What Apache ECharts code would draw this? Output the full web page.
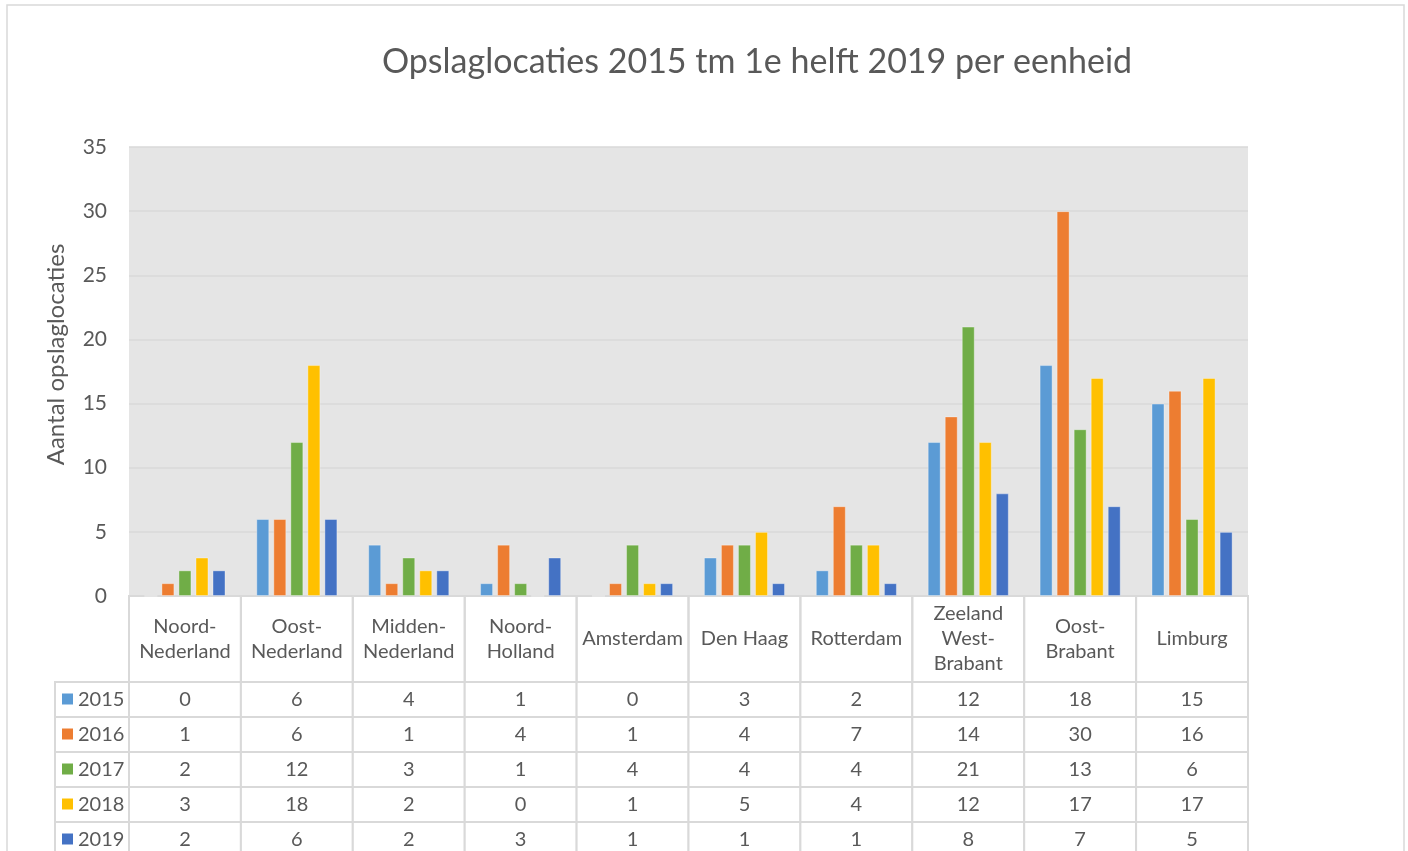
<!DOCTYPE html>
<html>
<head>
<meta charset="utf-8">
<script src="https://cdn.jsdelivr.net/npm/echarts@6/dist/echarts.min.js"></script>
<style>
    html, body { margin: 0; padding: 0; background: #fff; }
    #main { width: 1408px; height: 851px; }
</style>
</head>
<body>
<div id="main"></div>
<script>
(function () {
    'use strict';

    var categories = ['Noord-\nNederland', 'Oost-\nNederland', 'Midden-\nNederland', 'Noord-\nHolland', 'Amsterdam',
        'Den Haag', 'Rotterdam', 'Zeeland\nWest-\nBrabant', 'Oost-\nBrabant', 'Limburg'];
    var years = ['2015', '2016', '2017', '2018', '2019'];
    var v2015 = [0, 6, 4, 1, 0, 3, 2, 12, 18, 15];
    var v2016 = [1, 6, 1, 4, 1, 4, 7, 14, 30, 16];
    var v2017 = [2, 12, 3, 1, 4, 4, 4, 21, 13, 6];
    var v2018 = [3, 18, 2, 0, 1, 5, 4, 12, 17, 17];
    var v2019 = [2, 6, 2, 3, 1, 1, 1, 8, 7, 5];
    var colors = ['#5B9BD5', '#ED7D31', '#70AD47', '#FFC000', '#4472C4'];

    var FONT = 'Lato, "Open Sans", sans-serif';
    var TEXT = '#595959';
    var LINE = '#d9d9d9';

    var values = [v2015, v2016, v2017, v2018, v2019];

    // cellen van de datatabel
    var cellData = [];
    values.forEach(function (row, r) {
        row.forEach(function (v, i) {
            cellData.push([i, r, v]);
        });
    });
    var headData = categories.map(function (c, i) { return [i, 0]; });
    var rowHeadData = years.map(function (y, r) { return [0, r]; });

    function renderCell(params, api) {
        var c = api.coord([api.value(0), api.value(1)]);
        var s = api.size([1, 1]);
        return {
            type: 'group',
            children: [
                {
                    type: 'rect',
                    shape: { x: c[0] - s[0] / 2, y: c[1] - s[1] / 2, width: s[0], height: s[1] },
                    style: { fill: '#fff', stroke: LINE, lineWidth: 2 }
                },
                {
                    type: 'text',
                    style: {
                        text: String(api.value(2)), x: c[0], y: c[1],
                        align: 'center', verticalAlign: 'middle',
                        fontSize: 20, fontFamily: FONT, fill: TEXT
                    }
                }
            ]
        };
    }

    function renderHead(params, api) {
        var c = api.coord([api.value(0), api.value(1)]);
        var s = api.size([1, 1]);
        var top = c[1] - s[1] / 2;
        return {
            type: 'rect',
            shape: { x: c[0] - s[0] / 2, y: top - 86, width: s[0], height: 86 },
            style: { fill: 'none', stroke: LINE, lineWidth: 2 }
        };
    }

    function renderRowHead(params, api) {
        var r = api.value(1);
        var c = api.coord([0, r]);
        var s = api.size([1, 1]);
        var right = c[0] - s[0] / 2;
        return {
            type: 'group',
            children: [
                {
                    type: 'rect',
                    shape: { x: right - 74, y: c[1] - s[1] / 2, width: 74, height: s[1] },
                    style: { fill: '#fff', stroke: LINE, lineWidth: 2 }
                },
                {
                    type: 'rect',
                    shape: { x: right - 67, y: c[1] - 6, width: 11, height: 11 },
                    style: { fill: colors[r] }
                },
                {
                    type: 'text',
                    style: {
                        text: years[r], x: right - 51, y: c[1],
                        align: 'left', verticalAlign: 'middle',
                        fontSize: 20, fontFamily: FONT, fill: TEXT
                    }
                }
            ]
        };
    }

    var barSeries = years.map(function (y, k) {
        return {
            name: y,
            type: 'bar',
            xAxisIndex: 0,
            yAxisIndex: 0,
            barWidth: 13,
            barGap: '31%',
            data: values[k],
            itemStyle: { color: colors[k], borderColor: 'rgba(255,255,255,0.35)', borderWidth: 1 }
        };
    });

    var chart = echarts.init(document.getElementById('main'));
    chart.setOption({
        animation: false,
        textStyle: { fontFamily: FONT },
        title: {
            text: 'Opslaglocaties 2015 tm 1e helft 2019 per eenheid',
            left: 752,
            textAlign: 'center',
            top: 40,
            textStyle: { fontSize: 34, fontWeight: 'normal', color: TEXT, fontFamily: FONT }
        },
        graphic: [{
            type: 'rect',
            shape: { x: 7, y: 5, width: 1397, height: 900 },
            style: { fill: 'none', stroke: LINE, lineWidth: 1.5 },
            z: -1
        }],
        grid: [
            { left: 129, right: 160, top: 147, height: 449, show: true, backgroundColor: '#e5e5e5', borderWidth: 0,
                outerBoundsMode: 'none' },
            { left: 129, right: 160, top: 682, height: 175, outerBoundsMode: 'none' }
        ],
        xAxis: [
            {
                type: 'category',
                gridIndex: 0,
                data: categories,
                axisLine: { show: false },
                axisTick: { show: false },
                axisLabel: {
                    interval: 0, margin: 43, verticalAlign: 'middle', lineHeight: 25,
                    fontSize: 20, color: TEXT, fontFamily: FONT
                }
            },
            { type: 'category', gridIndex: 1, data: categories, show: false }
        ],
        yAxis: [
            {
                type: 'value',
                gridIndex: 0,
                min: 0,
                max: 35,
                interval: 5,
                name: 'Aantal opslaglocaties',
                nameLocation: 'middle',
                nameRotate: 90,
                nameGap: 61,
                nameTextStyle: { fontSize: 24, color: TEXT, fontFamily: FONT, padding: [0, 0, 0, 34] },
                axisLabel: { fontSize: 21, color: TEXT, margin: 22, fontFamily: FONT },
                splitLine: { lineStyle: { color: LINE, width: 1.5 } }
            },
            { type: 'category', gridIndex: 1, data: years, inverse: true, show: false }
        ],
        series: barSeries.concat([
            {
                type: 'custom',
                xAxisIndex: 1,
                yAxisIndex: 1,
                renderItem: renderHead,
                data: headData,
                silent: true
            },
            {
                type: 'custom',
                xAxisIndex: 1,
                yAxisIndex: 1,
                renderItem: renderRowHead,
                data: rowHeadData,
                silent: true
            },
            {
                type: 'custom',
                xAxisIndex: 1,
                yAxisIndex: 1,
                renderItem: renderCell,
                data: cellData,
                silent: true
            }
        ])
    });
})();
</script>
</body>
</html>
